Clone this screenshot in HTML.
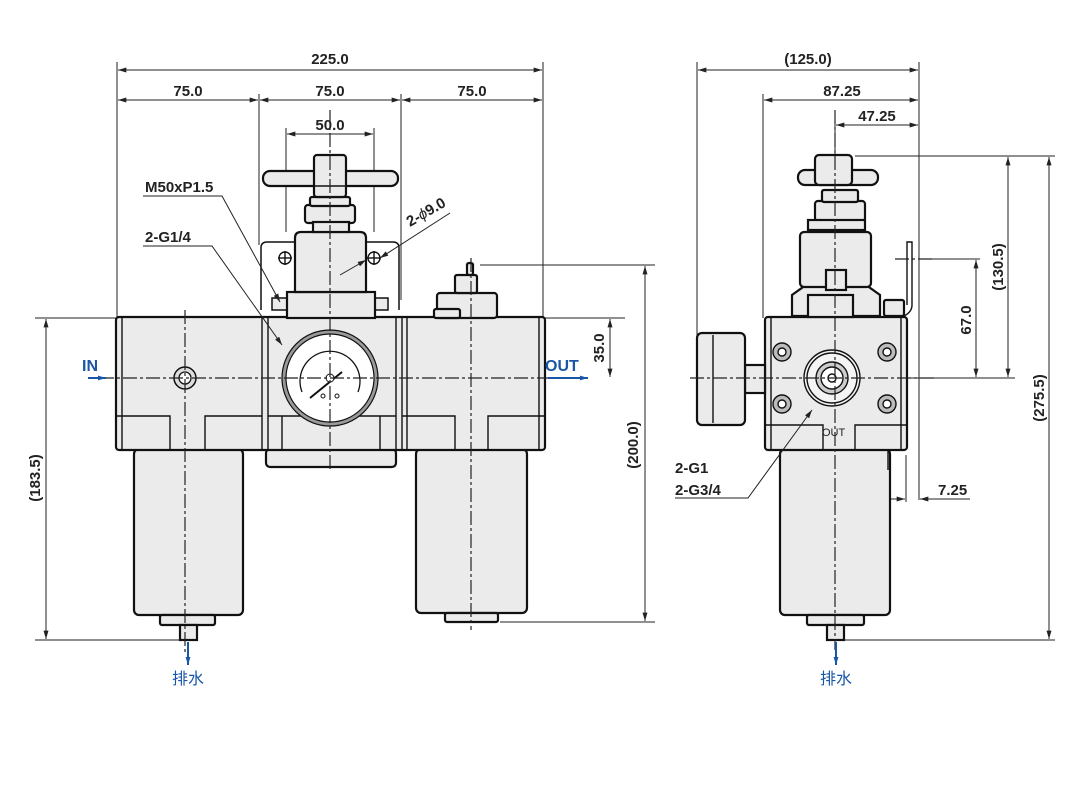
<!DOCTYPE html>
<html><head><meta charset="utf-8"><style>
html,body{margin:0;padding:0;background:#fff;}
svg{display:block;}
text{font-family:"Liberation Sans","Noto Sans CJK SC",sans-serif;font-weight:bold;fill:#222;}
</style></head><body>
<svg width="1086" height="807" viewBox="0 0 1086 807" xmlns="http://www.w3.org/2000/svg">
<defs>
<marker id="a" viewBox="0 0 10 6" refX="10" refY="3" markerWidth="12" markerHeight="5" orient="auto-start-reverse" markerUnits="userSpaceOnUse"><path d="M0,0L10,3L0,6z" fill="#222"/></marker>
<marker id="b" viewBox="0 0 10 6" refX="10" refY="3" markerWidth="8" markerHeight="6" orient="auto" markerUnits="userSpaceOnUse"><path d="M0,0L10,3L0,6z" fill="#1856a8"/></marker>
</defs>
<g stroke="#222" stroke-width="1" fill="none">
<line x1="117" y1="62" x2="117" y2="318"/><line x1="543" y1="62" x2="543" y2="318"/>
<line x1="259" y1="94" x2="259" y2="245"/><line x1="401" y1="94" x2="401" y2="300"/>
<line x1="286" y1="128" x2="286" y2="232"/><line x1="374" y1="128" x2="374" y2="232"/>
<line x1="118" y1="70" x2="542" y2="70" marker-start="url(#a)" marker-end="url(#a)"/>
<line x1="118" y1="100" x2="258" y2="100" marker-start="url(#a)" marker-end="url(#a)"/>
<line x1="260" y1="100" x2="400" y2="100" marker-start="url(#a)" marker-end="url(#a)"/>
<line x1="402" y1="100" x2="542" y2="100" marker-start="url(#a)" marker-end="url(#a)"/>
<line x1="287" y1="134" x2="373" y2="134" marker-start="url(#a)" marker-end="url(#a)"/>
<line x1="35" y1="318" x2="116" y2="318"/><line x1="35" y1="640" x2="180" y2="640"/>
<line x1="46" y1="319" x2="46" y2="639" marker-start="url(#a)" marker-end="url(#a)"/>
<line x1="480" y1="265" x2="655" y2="265"/><line x1="500" y1="622" x2="655" y2="622"/>
<line x1="645" y1="266" x2="645" y2="621" marker-start="url(#a)" marker-end="url(#a)"/>
<line x1="545" y1="318" x2="625" y2="318"/>
<line x1="610" y1="319" x2="610" y2="377" marker-start="url(#a)" marker-end="url(#a)"/>
<line x1="697" y1="62" x2="697" y2="340"/><line x1="763" y1="94" x2="763" y2="318"/>
<line x1="919" y1="62" x2="919" y2="500"/><line x1="835" y1="118" x2="835" y2="160"/>
<line x1="698" y1="70" x2="918" y2="70" marker-start="url(#a)" marker-end="url(#a)"/>
<line x1="764" y1="100" x2="918" y2="100" marker-start="url(#a)" marker-end="url(#a)"/>
<line x1="836" y1="125" x2="918" y2="125" marker-start="url(#a)" marker-end="url(#a)"/>
<line x1="855" y1="156" x2="1055" y2="156"/><line x1="845" y1="640" x2="1055" y2="640"/>
<line x1="930" y1="259" x2="980" y2="259"/><line x1="905" y1="378" x2="1015" y2="378"/>
<line x1="1049" y1="157" x2="1049" y2="639" marker-start="url(#a)" marker-end="url(#a)"/>
<line x1="1008" y1="157" x2="1008" y2="377" marker-start="url(#a)" marker-end="url(#a)"/>
<line x1="976" y1="260" x2="976" y2="377" marker-start="url(#a)" marker-end="url(#a)"/>
<line x1="906" y1="455" x2="906" y2="502"/>
<line x1="877" y1="499" x2="905" y2="499" marker-end="url(#a)"/>
<line x1="970" y1="499" x2="920" y2="499" marker-end="url(#a)"/>
</g>
<g stroke="#111" stroke-width="2.2" fill="#ebebeb">
<rect x="134" y="449" width="109" height="166" rx="5"/>
<rect x="160" y="615" width="55" height="10" rx="2"/>
<rect x="180" y="625" width="17" height="15"/>
<rect x="416" y="449" width="111" height="164" rx="5"/>
<rect x="445" y="613" width="53" height="9" rx="2"/>
<rect x="266" y="449" width="130" height="18" rx="4"/>
<rect x="116" y="317" width="429" height="133" rx="3"/>
<path d="M261,310 L261,248 Q261,242 267,242 L393,242 Q399,242 399,248 L399,310" fill="#fff" stroke-width="1.5"/>
<rect x="272" y="298" width="116" height="12" fill="#ebebeb" stroke-width="1.5"/>
<rect x="287" y="292" width="88" height="26"/>
<path d="M295,292 L295,238 Q295,232 301,232 L360,232 Q366,232 366,238 L366,292 Z"/>
<rect x="305" y="205" width="50" height="18" rx="3"/>
<rect x="310" y="197" width="40" height="9" rx="2"/>
<rect x="313" y="222" width="36" height="10"/>
<rect x="263" y="171" width="135" height="15" rx="7"/>
<rect x="314" y="155" width="32" height="42" rx="3"/>
<rect x="437" y="293" width="60" height="25" rx="3"/>
<rect x="434" y="309" width="26" height="9" rx="2"/>
<rect x="455" y="275" width="22" height="18" rx="2"/>
<rect x="467" y="263" width="6" height="12" rx="2"/>
</g>
<g stroke="#111" stroke-width="1.4" fill="none">
<line x1="262" y1="318" x2="262" y2="450"/><line x1="268" y1="318" x2="268" y2="450"/>
<line x1="396" y1="318" x2="396" y2="450"/><line x1="402" y1="318" x2="402" y2="450"/>
<line x1="407" y1="318" x2="407" y2="450"/>
<line x1="122" y1="318" x2="122" y2="450"/><line x1="539" y1="318" x2="539" y2="450"/>
<polyline points="116,416 170,416 170,449"/><polyline points="205,449 205,416 262,416"/>
<polyline points="402,416 455,416 455,449"/><polyline points="488,449 488,416 545,416"/>
<line x1="268" y1="416" x2="396" y2="416"/>
<line x1="282" y1="416" x2="282" y2="449"/><line x1="380" y1="416" x2="380" y2="449"/>
<line x1="313" y1="186" x2="347" y2="186"/>
<circle cx="285" cy="258" r="6"/><circle cx="374" cy="258" r="6"/>
<line x1="278" y1="258" x2="292" y2="258"/><line x1="285" y1="251" x2="285" y2="265"/>
<line x1="367" y1="258" x2="381" y2="258"/><line x1="374" y1="251" x2="374" y2="265"/>
</g>
<circle cx="330" cy="378" r="46" fill="#fff" stroke="#999" stroke-width="4"/>
<circle cx="330" cy="378" r="48" fill="none" stroke="#111" stroke-width="1.2"/>
<circle cx="330" cy="378" r="44" fill="none" stroke="#111" stroke-width="1.2"/>
<path d="M302,392 A30,30 0 1 1 358,392" fill="none" stroke="#111" stroke-width="1.3"/>
<line x1="310" y1="398" x2="342" y2="372" stroke="#111" stroke-width="2"/>
<circle cx="330" cy="378" r="4" fill="#fff" stroke="#111"/>
<circle cx="323" cy="396" r="2" fill="none" stroke="#111"/><circle cx="337" cy="396" r="2" fill="none" stroke="#111"/>
<circle cx="185" cy="378" r="11" fill="#ddd" stroke="#111" stroke-width="1.5"/>
<circle cx="185" cy="378" r="6" fill="#fff" stroke="#111" stroke-width="1.3"/>
<g stroke="#111" stroke-width="2.2" fill="#ebebeb">
<rect x="780" y="449" width="110" height="166" rx="5"/>
<rect x="807" y="615" width="57" height="10" rx="2"/>
<rect x="827" y="625" width="17" height="15"/>
<rect x="765" y="317" width="142" height="133" rx="3"/>
<path d="M792,316 L792,295 L806,285 L866,285 L880,295 L880,316 Z"/>
<rect x="800" y="232" width="71" height="55" rx="4"/>
<rect x="826" y="270" width="20" height="20"/>
<rect x="808" y="295" width="45" height="22"/>
<rect x="815" y="201" width="50" height="20" rx="3"/>
<rect x="822" y="190" width="36" height="12" rx="2"/>
<rect x="808" y="220" width="57" height="10"/>
<rect x="798" y="170" width="80" height="15" rx="7"/>
<rect x="815" y="155" width="37" height="30" rx="4"/>
<rect x="745" y="365" width="20" height="28"/>
<rect x="697" y="333" width="48" height="92" rx="5"/>
<rect x="884" y="300" width="20" height="16" rx="2"/>
</g>
<g stroke="#111" stroke-width="1.4" fill="none">
<line x1="771" y1="317" x2="771" y2="450"/><line x1="901" y1="317" x2="901" y2="450"/>
<line x1="713" y1="335" x2="713" y2="423"/>
<polyline points="765,425 823,425 823,449"/><polyline points="855,449 855,425 907,425"/>
<path d="M904,316 Q912,312 912,305 L912,242 L907,242 L907,305"/>
<line x1="888" y1="450" x2="888" y2="470"/>
<circle cx="832" cy="378" r="28" fill="#f4f4f4"/><circle cx="832" cy="378" r="25"/>
<circle cx="832" cy="378" r="16" fill="#ccc"/><circle cx="832" cy="378" r="11" fill="#fff"/>
<circle cx="832" cy="378" r="4"/>
<g fill="#bbb"><circle cx="782" cy="352" r="9"/><circle cx="887" cy="352" r="9"/><circle cx="782" cy="404" r="9"/><circle cx="887" cy="404" r="9"/></g>
<g fill="#fff"><circle cx="782" cy="352" r="4"/><circle cx="887" cy="352" r="4"/><circle cx="782" cy="404" r="4"/><circle cx="887" cy="404" r="4"/></g>
</g>
<text x="822" y="436" font-size="11" style="font-weight:normal">OUT</text>
<g stroke="#222" stroke-width="1.2" stroke-dasharray="14,3,3,3" fill="none">
<line x1="100" y1="378" x2="565" y2="378"/>
<line x1="330" y1="110" x2="330" y2="472"/>
<line x1="185" y1="310" x2="185" y2="652"/>
<line x1="471" y1="258" x2="471" y2="630"/>
<line x1="690" y1="378" x2="935" y2="378"/>
<line x1="835" y1="110" x2="835" y2="650"/>
<line x1="895" y1="259" x2="935" y2="259"/>
</g>
<g stroke="#222" stroke-width="1" fill="none">
<polyline points="143,196 222,196 280,302" marker-end="url(#a)"/>
<polyline points="143,246 212,246 282,345" marker-end="url(#a)"/>
<polyline points="450,213 380,258" marker-end="url(#a)"/>
<line x1="340" y1="275" x2="366" y2="260" marker-end="url(#a)"/>
<polyline points="675,498 748,498 812,410" marker-end="url(#a)"/>
</g>
<g stroke="#1856a8" stroke-width="2" fill="none">
<line x1="88" y1="378" x2="106" y2="378" marker-end="url(#b)"/>
<line x1="548" y1="378" x2="588" y2="378" marker-end="url(#b)"/>
<line x1="188" y1="642" x2="188" y2="665" marker-end="url(#b)"/>
<line x1="836" y1="642" x2="836" y2="665" marker-end="url(#b)"/>
</g>
<g font-size="15">
<text x="330" y="64" text-anchor="middle">225.0</text>
<text x="188" y="96" text-anchor="middle">75.0</text>
<text x="330" y="96" text-anchor="middle">75.0</text>
<text x="472" y="96" text-anchor="middle">75.0</text>
<text x="330" y="130" text-anchor="middle">50.0</text>
<text x="145" y="192">M50xP1.5</text>
<text x="145" y="242">2-G1/4</text>
<text x="410" y="227" transform="rotate(-30 410 227)">2-<tspan style="font-style:italic;font-weight:normal">ϕ</tspan>9.0</text>
<text x="40" y="478" text-anchor="middle" transform="rotate(-90 40 478)">(183.5)</text>
<text x="638" y="445" text-anchor="middle" transform="rotate(-90 638 445)">(200.0)</text>
<text x="604" y="348" text-anchor="middle" transform="rotate(-90 604 348)">35.0</text>
<text x="808" y="64" text-anchor="middle">(125.0)</text>
<text x="842" y="96" text-anchor="middle">87.25</text>
<text x="877" y="121" text-anchor="middle">47.25</text>
<text x="1003" y="267" text-anchor="middle" transform="rotate(-90 1003 267)">(130.5)</text>
<text x="971" y="320" text-anchor="middle" transform="rotate(-90 971 320)">67.0</text>
<text x="1044" y="398" text-anchor="middle" transform="rotate(-90 1044 398)">(275.5)</text>
<text x="938" y="495">7.25</text>
<text x="675" y="473">2-G1</text>
<text x="675" y="495">2-G3/4</text>
</g>
<g font-size="16">
<text x="82" y="371" style="fill:#1856a8">IN</text>
<text x="545" y="371" style="fill:#1856a8">OUT</text>
<text x="188" y="684" text-anchor="middle" style="fill:#1856a8;font-weight:normal">排水</text>
<text x="836" y="684" text-anchor="middle" style="fill:#1856a8;font-weight:normal">排水</text>
</g>
</svg>
</body></html>
